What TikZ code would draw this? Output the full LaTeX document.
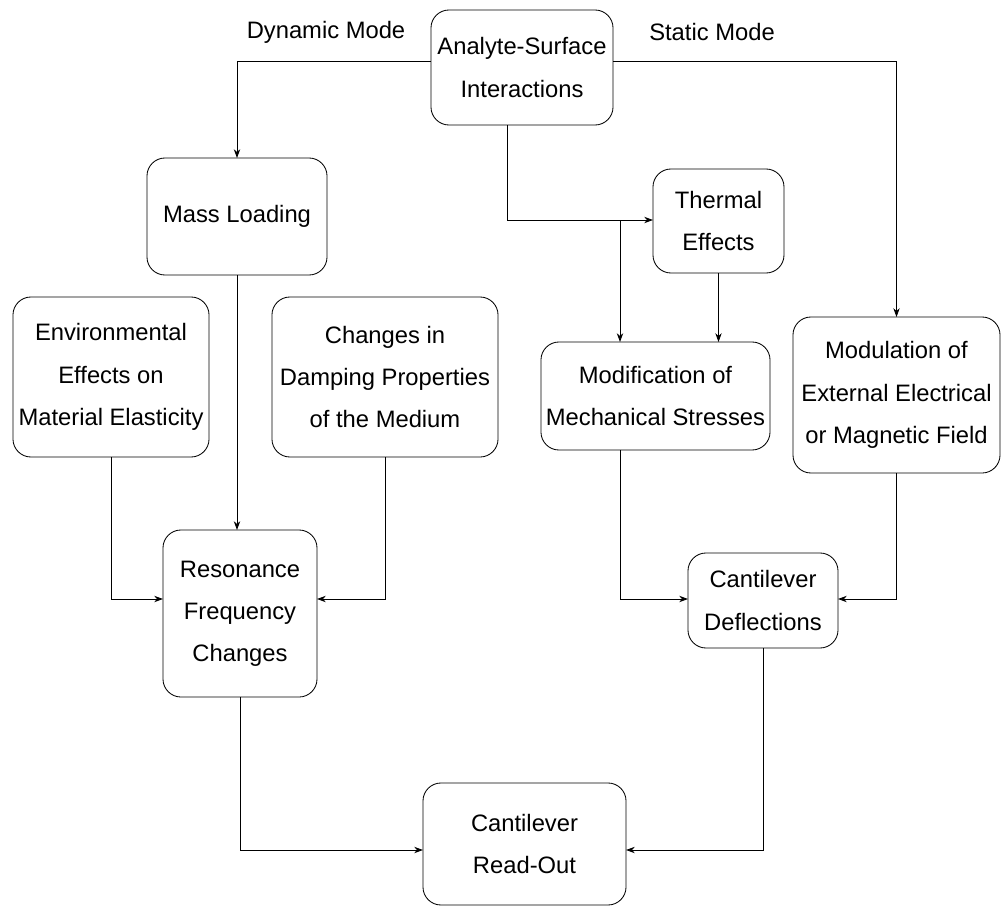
\documentclass[tikz,border=0pt]{standalone}
\usepackage{fontspec}
\setmainfont{Liberation Sans}
\usetikzlibrary{arrows.meta}

\begin{document}
\begin{tikzpicture}[x=0.025cm, y=-0.025cm, line width=0.6pt,
    >={Stealth[length=2.2mm,width=1.6mm]},
    font=\fontsize{16.9}{30}\selectfont,
    box/.style={draw, rounded corners=4.5mm, align=center, inner sep=1pt, outer sep=0pt}]
  \useasboundingbox (0,0) rectangle (1002,907);
  \draw
    (522,67.5) node[box, minimum width=4.55cm, minimum height=2.875cm] (ana) {Analyte-Surface\\Interactions}
    (237,216.5) node[box, minimum width=4.5cm, minimum height=2.925cm] (mass) {Mass Loading}
    (718.5,221) node[box, minimum width=3.275cm, minimum height=2.6cm] (therm) {Thermal\\Effects}
    (111,377) node[box, minimum width=4.9cm, minimum height=4cm] (env) {Environmental\\Effects on\\Material Elasticity}
    (385,377) node[box, minimum width=5.65cm, minimum height=4cm] (damp) {Changes in\\Damping Properties\\of the Medium}
    (655.5,396) node[box, minimum width=5.725cm, minimum height=2.7cm] (mod) {Modification of\\Mechanical Stresses}
    (896.5,395) node[box, minimum width=5.175cm, minimum height=3.9cm] (modul) {Modulation of\\External Electrical\\or Magnetic Field}
    (240,613.5) node[box, minimum width=3.85cm, minimum height=4.175cm] (res) {Resonance\\Frequency\\Changes}
    (763,600.5) node[box, minimum width=3.75cm, minimum height=2.375cm] (defl) {Cantilever\\Deflections}
    (524.5,844) node[box, minimum width=5.075cm, minimum height=3.05cm] (read) {Cantilever\\Read-Out}
    (326,32) node (dyn) {Dynamic Mode}
    (712,32) node (stat) {Static Mode};
  \coordinate (top) at (0,61);
  \coordinate (drop) at (507,0);
  \coordinate (br) at (620,220);
  \coordinate (lvl) at (0,599);
  \coordinate (rl) at (0,850);
  \begin{scope}[->]
    \draw (ana.west |- top) -| (mass);
    \draw (ana.east |- top) -| (modul);
    \draw (ana.south -| drop) |- (therm.west |- br);
    \draw (br) -- (br |- mod.north);
    \draw (therm) -- (therm |- mod.north);
    \draw (mass) -- (mass |- res.north);
    \draw (env) |- (res.west |- lvl);
    \draw (damp) |- (res.east |- lvl);
    \draw (mod.south -| br) |- (defl.west |- lvl);
    \draw (modul) |- (defl.east |- lvl);
    \draw (res) |- (read.west |- rl);
    \draw (defl) |- (read.east |- rl);
  \end{scope}
\end{tikzpicture}
\end{document}
